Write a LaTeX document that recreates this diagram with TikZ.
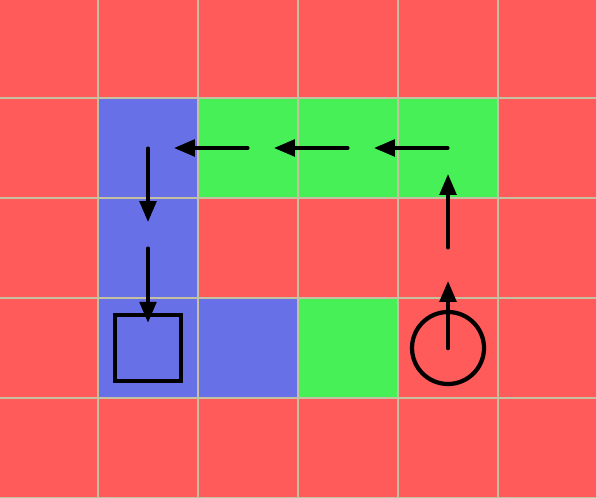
\documentclass[tikz,border=0pt]{standalone}
\usepackage{tikz}
\usetikzlibrary{arrows.meta}
\definecolor{cellred}{RGB}{255,91,91}
\definecolor{cellblue}{RGB}{104,112,232}
\definecolor{cellgreen}{RGB}{72,240,88}
\definecolor{gridgray}{RGB}{196,192,160}
\tikzset{node distance=1cm,
  move/.style={-{Triangle[length=6pt,width=4.6pt]},line width=1.3pt,line cap=round,shorten >=0.25cm},
  marker/.style={draw,line width=1.2pt,inner sep=0pt},
  spot/.style={inner sep=0pt,minimum size=0pt}}

\begin{document}
\begin{tikzpicture}
  \useasboundingbox (0.02,0.01) rectangle (5.98,4.98);
  \fill[cellred] (0,0) rectangle (6,5);
  \fill[cellblue] (1,1) rectangle (2,4);
  \fill[cellblue] (2,1) rectangle (3,2);
  \fill[cellgreen] (2,3) rectangle (5,4);
  \fill[cellgreen] (3,1) rectangle (4,2);
  \draw[gridgray,line width=0.3pt] (0,0) grid (6,5);

  \node (start) [marker,circle,minimum size=0.72cm] at (4.5,1.5) {};
  \node (s1) [spot,above of=start] {};
  \node (s2) [spot,above of=s1] {};
  \node (s3) [spot,left of=s2] {};
  \node (s4) [spot,left of=s3] {};
  \node (s5) [spot,left of=s4] {};
  \node (s6) [spot,below of=s5] {};
  \node (goal) [marker,rectangle,minimum size=0.66cm,below of=s6] {};

  \draw[move,shorten >=0.32cm] (start.center) to (s1);
  \draw[move] (s1) to (s2);
  \draw[move] (s2) to (s3);
  \draw[move] (s3) to (s4);
  \draw[move] (s4) to (s5);
  \draw[move] (s5) to (s6);
  \draw[move] (s6) to (goal.center);
\end{tikzpicture}
\end{document}
